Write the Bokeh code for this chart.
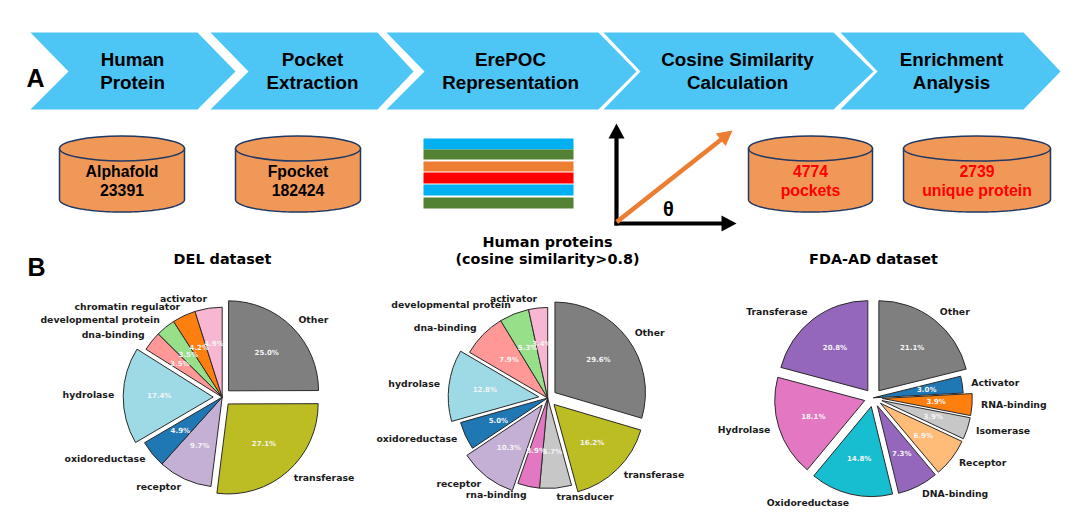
import numpy as np
from bokeh.plotting import figure
from bokeh.models import Range1d
from bokeh.embed import file_html
from bokeh.resources import INLINE
from bokeh.core.properties import value

# ---------- data ----------
del_labels = ["Other", "transferase", "receptor", "oxidoreductase", "hydrolase", "dna-binding",
              "developmental protein", "chromatin regulator", "activator"]
del_values = [25.0, 27.1, 9.7, 4.9, 17.4, 3.5, 3.5, 4.2, 4.9]
del_colors = ["#7f7f7f", "#bcbd22", "#c5b0d5", "#1f77b4", "#9edae5", "#ff9896", "#98df8a", "#ff7f0e", "#f7b6d2"]
del_explode = [1, 1, 0, 0, 1, 0, 0, 0, 0]

hum_labels = ["Other", "transferase", "transducer", "rna-binding", "receptor", "oxidoreductase", "hydrolase",
              "dna-binding", "developmental protein", "activator"]
hum_values = [29.6, 16.2, 5.7, 3.9, 10.3, 5.0, 12.8, 7.9, 5.3, 3.4]
hum_colors = ["#7f7f7f", "#bcbd22", "#c7c7c7", "#e377c2", "#c5b0d5", "#1f77b4", "#9edae5", "#ff9896", "#98df8a", "#f7b6d2"]
hum_explode = [1, 1, 0, 0, 1, 0, 1, 0, 0, 0]

fda_labels = ["Other", "Activator", "RNA-binding", "Isomerase", "Receptor", "DNA-binding", "Oxidoreductase",
              "Hydrolase", "Transferase"]
fda_values = [21.1, 3.0, 3.9, 3.9, 6.9, 7.3, 14.8, 18.1, 20.8]
fda_colors = ["#7f7f7f", "#1f77b4", "#ff7f0e", "#c7c7c7", "#ffbb78", "#9467bd", "#17becf", "#e377c2", "#9467bd"]
fda_explode = [1, 0, 1, 1, 1, 1, 1, 1, 1]

step_titles = [["Human", "Protein"], ["Pocket", "Extraction"], ["ErePOC", "Representation"],
               ["Cosine Similarity", "Calculation"], ["Enrichment", "Analysis"]]
db_texts = [["Alphafold", "23391"], ["Fpocket", "182424"], ["4774", "pockets"], ["2739", "unique protein"]]
db_colors = ["#000000", "#000000", "#ff0000", "#ff0000"]
stripe_colors = ["#00b0f0", "#548235", "#ed7d31", "#ff0000", "#00b0f0", "#548235"]

# ---------- canvas: reference pixel coordinates ----------
p = figure(width=1064, height=508, output_backend="svg", toolbar_location=None,
           x_range=Range1d(0, 1064), y_range=Range1d(16, 524), min_border=0)
p.axis.visible = False
p.grid.visible = False
p.outline_line_color = None
p.background_fill_color = "#ffffff"
p.border_fill_color = "#ffffff"

def Y(y):
    return 524 - y

def txt(x, y, s, size, color="#000000", font="DejaVu Sans", bold=True, align="center"):
    p.text(x=[x], y=[Y(y)], text=[s], text_font=value(font), text_font_size=f"{size}px",
           text_color=color, text_align=align, text_baseline="middle",
           text_font_style="bold" if bold else "normal")

# ---------- chevrons ----------
chev = [(30, 197, 235, 68), (210, 377, 413, 248), (386, 598, 636, 424), (603, 833, 873, 640), (840, 1023, 1060, 877)]
top, mid, bot = 32, 71, 109
for (l, r, tip, notch), lines in zip(chev, step_titles):
    p.patch([l, r, tip, r, l, notch], [Y(v) for v in (top, top, mid, bot, bot, mid)], fill_color="#4dc5f5", line_color=None)
centers = [132, 312, 510, 737, 951]
for cx, lines in zip(centers, step_titles):
    txt(cx, 58.5, lines[0], 18.8, font="Liberation Sans")
    txt(cx, 82, lines[1], 18.8, font="Liberation Sans")

txt(35, 77, "A", 25, font="Liberation Sans")
txt(36, 266, "B", 25, font="Liberation Sans")

# ---------- databases ----------
dbs = [(59, 184), (235, 360), (748, 872), (903, 1050)]
for (l, r), lines, col in zip(dbs, db_texts, db_colors):
    cx, a = (l + r) / 2, (r - l) / 2
    t = np.linspace(0, np.pi, 60)
    xs = np.concatenate([[l], cx - a * np.cos(t), [r]])
    ys = np.concatenate([[148], 199 + 12.5 * np.sin(t), [148]])
    p.patch(xs, Y(ys), fill_color="#f09858", line_color="#1f3864", line_width=1.5)
    p.ellipse(x=[cx], y=[Y(148)], width=[2 * a], height=[25], fill_color="#f09858", line_color="#1f3864", line_width=1.5)
    txt(cx, 170.5, lines[0], 15.8, color=col, font="Liberation Sans")
    txt(cx, 189.5, lines[1], 15.8, color=col, font="Liberation Sans")

# ---------- stripes ----------
stripe_y = [(138, 149), (149, 159), (161, 171), (172, 183), (184, 195), (197, 208)]
for (a, b), c in zip(stripe_y, stripe_colors):
    p.quad(left=[423], right=[573], top=[Y(a)], bottom=[Y(b)], fill_color=c, line_color=None)

# ---------- vector sketch ----------
def arrow(x0, y0, x1, y1, color, w, hl=15, hw=8):
    d = np.array([x1 - x0, y1 - y0], float)
    d /= np.hypot(*d)
    n = np.array([-d[1], d[0]])
    base = np.array([x1, y1]) - d * hl
    p.line([x0, base[0]], [Y(y0), Y(base[1])], line_color=color, line_width=w, line_cap="square")
    pts = np.array([[x1, y1], base + n * hw, base - n * hw])
    p.patch(pts[:, 0], Y(pts[:, 1]), fill_color=color, line_color=None)

arrow(616, 223, 616, 123, "#000000", 4.2)
arrow(616, 223, 736, 223, "#000000", 4.2)
arrow(618, 220, 732, 130, "#ed7d31", 4.5)
txt(668, 208, "θ", 20, font="Liberation Sans")

# ---------- pies ----------
def pie(cx, cy, r, labels, values, colors, explode):
    v = np.array(values, float)
    frac = v / v.sum()
    cum = np.concatenate([[0], np.cumsum(frac)])
    a0 = np.pi / 2 - cum[:-1] * 2 * np.pi
    a1 = np.pi / 2 - cum[1:] * 2 * np.pi
    m = (a0 + a1) / 2
    off = 0.1 * r * np.array(explode, float)
    x = cx + off * np.cos(m)
    y = Y(cy) + off * np.sin(m)
    p.wedge(x=x, y=y, radius=r, start_angle=a1, end_angle=a0, fill_color=colors,
            line_color="#2a2a2a", line_width=1)
    for i, lab in enumerate(labels):
        lx = x[i] + 1.1 * r * np.cos(m[i])
        ly = y[i] + 1.1 * r * np.sin(m[i]) + 0.8
        p.text(x=[lx], y=[ly], text=[lab], text_font=value("DejaVu Sans"), text_font_size="9.3px",
               text_font_style="bold", text_color="#1a1a1a", text_baseline="middle",
               text_align="left" if np.cos(m[i]) > 0 else "right")
    for i, val in enumerate(values):
        lx = x[i] + 0.6 * r * np.cos(m[i])
        ly = y[i] + 0.6 * r * np.sin(m[i])
        p.text(x=[lx], y=[ly], text=[f"{val:.1f}%"], text_font=value("DejaVu Sans"), text_font_size="7px",
               text_font_style="bold", text_color="#f4f4f4", text_baseline="middle", text_align="center")

pie(221.7, 396.7, 90, del_labels, del_values, del_colors, del_explode)
pie(547.2, 397.5, 90.5, hum_labels, hum_values, hum_colors, hum_explode)
pie(872.8, 397.3, 90, fda_labels, fda_values, fda_colors, fda_explode)

txt(222, 258, "DEL dataset", 14.4)
txt(547, 241.5, "Human proteins", 14.4)
txt(547, 258, "(cosine similarity>0.8)", 14.4)
txt(873, 258, "FDA-AD dataset", 14.4)

open("out.html", "w").write(file_html(p, INLINE))
